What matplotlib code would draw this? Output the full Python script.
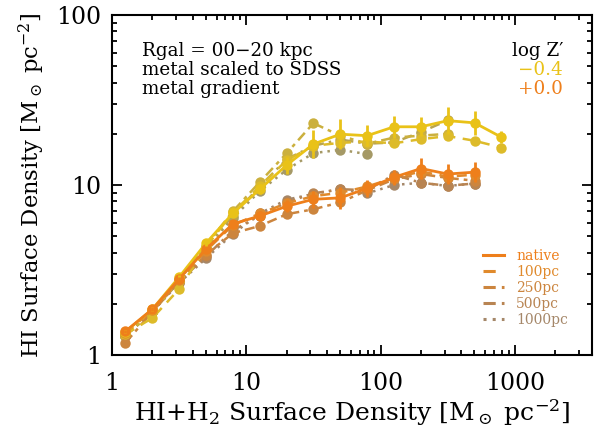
import numpy as np
import matplotlib
matplotlib.use('Agg')
import matplotlib.pyplot as plt
from matplotlib.lines import Line2D
from matplotlib.ticker import FixedLocator, FuncFormatter, LogLocator, NullFormatter

plt.rcParams['font.family'] = 'DejaVu Serif'
plt.rcParams['mathtext.fontset'] = 'dejavuserif'

# bin centres (HI+H2 surface density)
xbins = [1.26, 2.0, 3.16, 5.0, 7.94, 12.6, 20.0, 31.6, 50.1, 79.4, 126, 200, 316, 501, 794]

resol = ['native', '100pc', '250pc', '500pc', '1000pc']

# log Z' = -0.4
yel_native = [1.37, 1.86, 2.87, 4.54, 6.81, 9.44, 13.1, 17.4, 19.9, 19.5, 22.0, 22.0, 23.9, 23.2, 19.1]
yel_err    = [0.01, 0.01, 0.015, 0.015, 0.02, 0.03, 0.05, 0.08, 0.09, 0.06, 0.065, 0.055, 0.08, 0.07, 0.035]
yel_100    = [1.33, 1.65, 2.44, 4.3, 6.9, 9.8, 14.0, 17.0, 17.7, 18.0, 17.6, 18.6, 19.4, 18.2, 16.6]
yel_250    = [1.30, 1.78, 2.75, 4.4, 7.0, 10.4, 15.4, 23.1, 19.5, 17.5, 19.0, 19.5, 20.0]
yel_500    = [1.30, 1.80, 2.80, 4.3, 6.6, 9.8, 14.2, 17.0, 18.5, 17.5, 17.8, 20.5, 24.0]
yel_1000   = [1.30, 1.80, 2.75, 4.2, 6.4, 9.2, 12.3, 15.4, 16.1, 15.2]

# log Z' = +0.0
ora_native = [1.38, 1.86, 2.80, 4.19, 5.9, 6.57, 7.5, 8.24, 8.4, 9.56, 11.1, 12.5, 11.6, 11.9]
ora_err    = [0.01, 0.01, 0.01, 0.015, 0.02, 0.03, 0.035, 0.05, 0.065, 0.05, 0.044, 0.06, 0.06, 0.06]
ora_100    = [1.35, 1.83, 2.75, 4.1, 5.8, 6.8, 7.8, 8.6, 9.0, 9.8, 11.0, 12.0, 11.2, 11.5]
ora_250    = [1.18, 1.80, 2.70, 3.9, 5.2, 5.74, 6.73, 7.2, 7.9, 9.3, 10.8, 11.6, 11.0, 10.6]
ora_500    = [1.30, 1.80, 2.70, 3.8, 5.4, 6.6, 7.9, 8.93, 9.44, 9.33, 11.5, 10.3, 9.9, 10.2]
ora_1000   = [1.30, 1.80, 2.65, 3.7, 5.15, 6.8, 8.2, 8.85, 9.44, 8.93, 10.0, 10.3, 9.87, 10.2]

yel_cols = ['#E9C218', '#DDBB2A', '#CBB03E', '#B9A450', '#A59966']
ora_cols = ['#EE7F1B', '#E08A2C', '#CC853E', '#B88452', '#A58769']
styles = ['-', (0, (4, 3)), (0, (4, 2, 1.5, 2)), (0, (4, 2, 1, 2, 1, 2)), (0, (1, 2))]

fig = plt.figure(figsize=(5.97, 4.38), dpi=100)
ax = fig.add_axes([0.1876, 0.1895, 0.804, 0.7763])

def draw(series, cols, err):
    # low resolutions first, native on top
    for i in range(len(series) - 1, -1, -1):
        y = series[i]
        x = xbins[:len(y)]
        lw = 2.0 if i == 0 else 1.8
        ax.plot(x, y, color=cols[i], ls=styles[i], lw=lw, marker='o', ms=7.5,
                mec='none', zorder=3 + (4 - i))
        if i == 0:
            y = np.array(y)
            e = np.array(err)
            lo = y - y * 10 ** (-e)
            hi = y * 10 ** e - y
            ax.errorbar(x, y, yerr=[lo, hi], fmt='none', ecolor=cols[0], elinewidth=2,
                        capsize=0, zorder=8)

draw([yel_native, yel_100, yel_250, yel_500, yel_1000], yel_cols, yel_err)
draw([ora_native, ora_100, ora_250, ora_500, ora_1000], ora_cols, ora_err)

ax.set_xscale('log')
ax.set_yscale('log')
ax.set_xlim(1, 3750)
ax.set_ylim(1, 100)

fmt = FuncFormatter(lambda v, p: '%d' % round(v))
ax.xaxis.set_major_locator(FixedLocator([1, 10, 100, 1000]))
ax.yaxis.set_major_locator(FixedLocator([1, 10, 100]))
ax.xaxis.set_major_formatter(fmt)
ax.yaxis.set_major_formatter(fmt)
ax.xaxis.set_minor_locator(LogLocator(base=10, subs=np.arange(2, 10)))
ax.yaxis.set_minor_locator(LogLocator(base=10, subs=np.arange(2, 10)))
ax.xaxis.set_minor_formatter(NullFormatter())
ax.yaxis.set_minor_formatter(NullFormatter())
ax.tick_params(which='both', direction='in', top=True, right=True, width=1.3)
ax.tick_params(which='major', length=7, labelsize=17)
ax.tick_params(axis='x', which='major', pad=12)
ax.tick_params(axis='y', which='major', pad=8)
ax.tick_params(which='minor', length=3.5)
for s in ax.spines.values():
    s.set_linewidth(1.5)

ax.set_xlabel(r'HI+H$_2$ Surface Density [M$_\odot$ pc$^{-2}$]', fontsize=18, labelpad=2)
ax.set_ylabel(r'HI Surface Density [M$_\odot$ pc$^{-2}$]', fontsize=16.3, labelpad=6)

info = ['Rgal = 00\u221220 kpc', 'metal scaled to SDSS', 'metal gradient']
for k, t in enumerate(info):
    ax.text(0.063, 0.895 - k * 0.056, t, transform=ax.transAxes, fontsize=13.2,
            ha='left', va='center', color='black')
zlab = ['log Z\u2032', '\u22120.4', '+0.0']
zcol = ['black', yel_cols[0], ora_cols[0]]
for k, t in enumerate(zlab):
    ax.text(0.94, 0.895 - k * 0.056, t, transform=ax.transAxes, fontsize=13.2,
            ha='right', va='center', color=zcol[k])

handles = [Line2D([], [], color=ora_cols[i], ls=styles[i], lw=2.2) for i in range(5)]
ax.legend(handles, resol, loc='lower right', bbox_to_anchor=(0.965, 0.062), frameon=False,
          fontsize=10, labelcolor=ora_cols, handlelength=1.5, handletextpad=0.9,
          labelspacing=0.15, borderpad=0)

fig.savefig('out.png', dpi=100)
